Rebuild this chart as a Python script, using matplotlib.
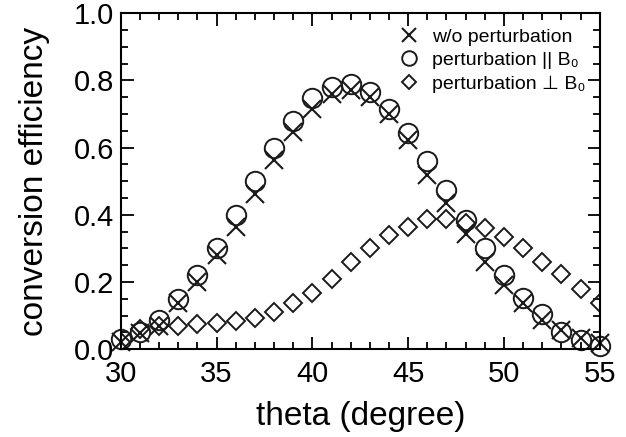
import matplotlib
matplotlib.use("Agg")
import matplotlib.pyplot as plt
from matplotlib.ticker import MultipleLocator, FormatStrFormatter

plt.rcParams['font.family'] = ['Liberation Sans', 'DejaVu Sans']

# Data
theta = list(range(30, 56))
no_pert = [0.02, 0.047, 0.07, 0.136, 0.20, 0.28, 0.364, 0.463, 0.562, 0.647,
           0.716, 0.76, 0.77, 0.75, 0.70, 0.622, 0.518, 0.434, 0.344, 0.26,
           0.19, 0.136, 0.086, 0.057, 0.032, 0.017]
pert_par = [0.03, 0.05, 0.086, 0.149, 0.22, 0.30, 0.40, 0.50, 0.60, 0.68,
            0.746, 0.78, 0.79, 0.766, 0.714, 0.644, 0.56, 0.473, 0.384, 0.30,
            0.22, 0.153, 0.106, 0.052, 0.027, 0.01]
pert_perp = [0.02, 0.06, 0.07, 0.07, 0.076, 0.078, 0.084, 0.094, 0.11, 0.136,
             0.168, 0.21, 0.26, 0.30, 0.34, 0.364, 0.386, 0.386, 0.374, 0.36,
             0.334, 0.30, 0.26, 0.225, 0.18, 0.136]
labels = ['w/o perturbation', 'perturbation || B\u2080', 'perturbation \u22a5 B\u2080']

fig = plt.figure(figsize=(6.26, 4.37), dpi=100)
ax = fig.add_axes([0.193, 0.201, 0.765, 0.769])

ax.plot(theta, no_pert, 'x', color='#1a1a1a', ms=13, mew=1.5, ls='none',
        label=labels[0], clip_on=False)
ax.plot(theta, pert_par, 'o', mfc='none', mec='#1a1a1a', ms=14, mew=1.4, ls='none',
        label=labels[1], clip_on=False)
ax.plot(theta, pert_perp, 'D', mfc='none', mec='#1a1a1a', ms=9, mew=1.4, ls='none',
        label=labels[2])

ax.set_xlim(30, 55)
ax.set_ylim(0, 1.0)
ax.xaxis.set_major_locator(MultipleLocator(5))
ax.xaxis.set_minor_locator(MultipleLocator(1))
ax.yaxis.set_major_locator(MultipleLocator(0.2))
ax.yaxis.set_minor_locator(MultipleLocator(0.05))
ax.yaxis.set_major_formatter(FormatStrFormatter('%.1f'))
ax.tick_params(which='both', direction='in', top=True, right=True, width=1.3)
ax.tick_params(which='major', length=9, labelsize=21)
ax.tick_params(axis='x', which='major', pad=8)
ax.tick_params(axis='y', which='major', pad=5)
ax.tick_params(which='minor', length=5)
for s in ax.spines.values():
    s.set_linewidth(1.5)

ax.set_xlabel('theta (degree)', fontsize=24, labelpad=9)
ax.set_ylabel('conversion efficiency', fontsize=24, labelpad=17)

ax.legend(loc='upper right', bbox_to_anchor=(0.995, 0.99), frameon=False, fontsize=14,
          handlelength=1.0, handletextpad=0.7, labelspacing=0.3, borderpad=0.1,
          markerscale=0.75)

fig.savefig('out.png', dpi=100)
